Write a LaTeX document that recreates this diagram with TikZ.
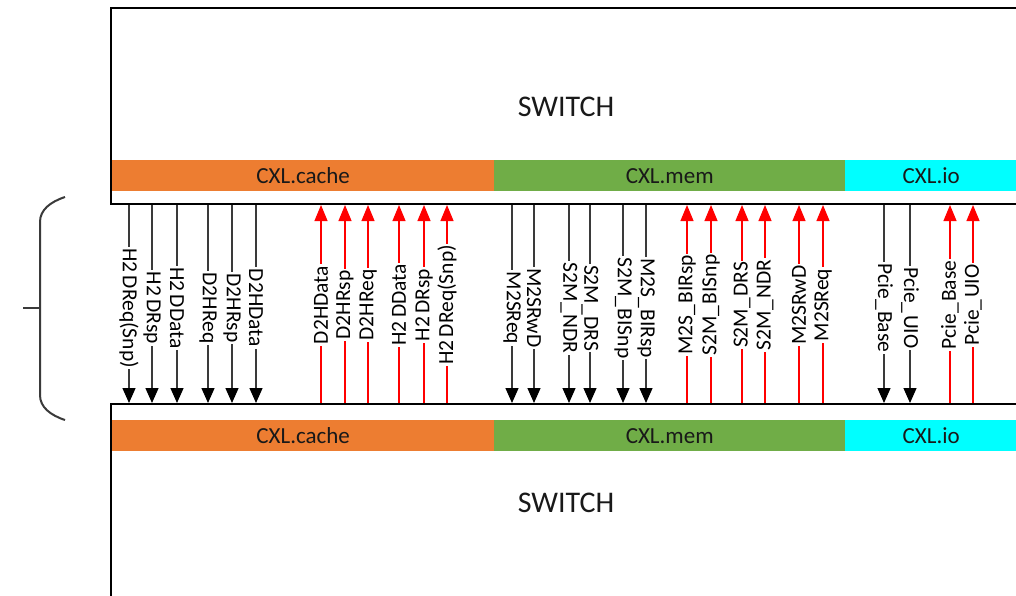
\documentclass[tikz,border=0pt]{standalone}
\usepackage{fontspec}
\setmainfont{Carlito}
\usetikzlibrary{arrows.meta}
\definecolor{cxlorange}{HTML}{ED7D31}
\definecolor{cxlgreen}{HTML}{70AD47}
\definecolor{cxlcyan}{HTML}{00FFFF}
\definecolor{lineg}{HTML}{3A3A3A}
\begin{document}
\begin{tikzpicture}[x=1pt,y=-1pt,
  boxline/.style={line width=2pt, black},
  bar/.style={draw=none, minimum height=31pt, inner sep=0pt, anchor=north west,
    font=\fontsize{23}{24}\selectfont, text=black!90},
  swtext/.style={font=\fontsize{30}{32}\selectfont, text=black!90},
  downarrow/.style={draw=lineg, line width=1.3pt, -{Triangle[width=13pt,length=15pt,color=black]}},
  uparrow/.style={draw=red, line width=1.1pt, -{Triangle[width=13pt,length=16pt,color=red]}},
  dlabel/.style={fill=white, rotate=-90, inner xsep=1.5pt, inner ysep=0pt,
    font=\fontsize{21.5}{22}\selectfont, pos=0.52},
  ulabel/.style={fill=white, rotate=90, inner xsep=1.5pt, inner ysep=0pt,
    font=\fontsize{21.5}{22}\selectfont, pos=0.495},
  bracestyle/.style={draw=lineg, line width=2pt}
]
\useasboundingbox (0,0) rectangle (1016,595);
\clip (0,0) rectangle (1016,595);
% top switch
\draw[boxline] (1020,8) -- (111,8) -- (111,204) -- (1020,204);
\node[swtext] (swtop) at (566,107) {SWITCH};
\node[bar, fill=cxlorange, minimum width=382pt] (ctop) at (112,160) {CXL.cache};
\node[bar, fill=cxlgreen, minimum width=351pt] (mtop) at (494,160) {CXL.mem};
\node[bar, fill=cxlcyan, minimum width=172pt] (itop) at (845,160) {CXL.io};
% bottom switch
\draw[boxline] (1020,404) -- (111,404) -- (111,600);
\node[swtext] (swbot) at (566,503) {SWITCH};
\node[bar, fill=cxlorange, minimum width=382pt] (cbot) at (112,420) {CXL.cache};
\node[bar, fill=cxlgreen, minimum width=351pt] (mbot) at (494,420) {CXL.mem};
\node[bar, fill=cxlcyan, minimum width=172pt] (ibot) at (845,420) {CXL.io};
% downward (black) arrows
\foreach \x/\t [count=\i] in {129/{H2\,DReq(Snp)},152/{H2\,DRsp},177/{H2\,DData},208/D2HReq,232/D2HRsp,256/D2HData,
  512/M2SReq,534/M2SRwD,569/{S2M\_\kern1.5pt NDR},590/{S2M\_\kern1.5pt DRS},623/{S2M\_\kern1.5pt BISnp},646/{M2S\_\kern1.5pt BIRsp},
  884/{Pcie\_\kern1.5pt Base},910/{Pcie\_\kern1.5pt UIO}}{
  \coordinate (dt\i) at (\x,205);
  \coordinate (db\i) at (\x,403);
  \draw[downarrow] (dt\i) -- node[dlabel]{\t} (db\i);
}
% upward (red) arrows
\foreach \x/\t [count=\i] in {321/D2HData,345/D2HRsp,368/D2HReq,399/{H2\,DData},424/{H2\,DRsp},447/{H2\,DReq(Snp)},
  687/{M2S\_\kern1.5pt BIRsp},711/{S2M\_\kern1.5pt BISnp},742/{S2M\_\kern1.5pt DRS},765/{S2M\_\kern1.5pt NDR},799/M2SRwD,823/M2SReq,
  950/{Pcie\_\kern1.5pt Base},973/{Pcie\_\kern1.5pt UIO}}{
  \coordinate (ub\i) at (\x,403);
  \coordinate (ut\i) at (\x,205);
  \draw[uparrow] (ub\i) -- node[ulabel]{\t} (ut\i);
}
% brace
\draw[bracestyle] (65,197) .. controls (50,202) and (40,210) .. (40,222) -- (40,395)
  .. controls (40,407) and (50,415) .. (65,420);
\draw[bracestyle] (23,308) -- (40,308);
\end{tikzpicture}
\end{document}
